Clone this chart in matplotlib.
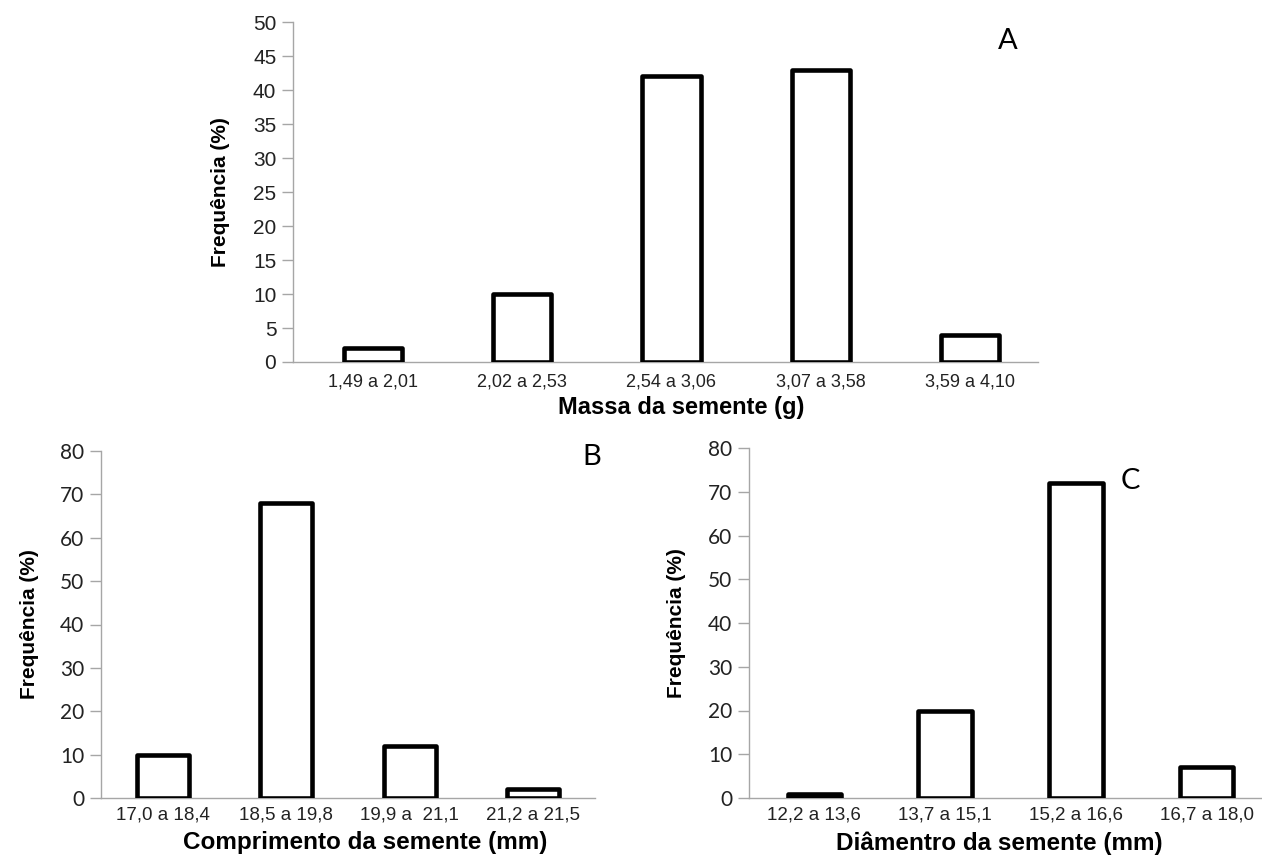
import matplotlib
matplotlib.use("Agg")
import matplotlib.pyplot as plt
import numpy as np

# dados
massa_classes = ["1,49 a 2,01", "2,02 a 2,53", "2,54 a 3,06", "3,07 a 3,58", "3,59 a 4,10"]
massa_freq = [2, 10, 42, 43, 4]

compr_classes = ["17,0 a 18,4", "18,5 a 19,8", "19,9 a  21,1", "21,2 a 21,5"]
compr_freq = [10, 68, 12, 2]

diam_classes = ["12,2 a 13,6", "13,7 a 15,1", "15,2 a 16,6", "16,7 a 18,0"]
diam_freq = [1, 20, 72, 7]

W, H = 1262, 856
fig = plt.figure(figsize=(W / 100, H / 100), dpi=100)
fig.patch.set_facecolor("white")

GRAY = "#a6a6a6"


def panel(rect, classes, freq, ymax, ystep, letter, letter_xy, xlabel,
          ytick_font, ytick_size, xtick_size, xlab_size, ylab_x, xlab_xy,
          width=0.4, xlim=None, xpad=6):
    l, r, t, b = rect
    ax = fig.add_axes([l / W, (H - b) / H, (r - l) / W, (b - t) / H])
    x = np.arange(len(classes))
    ax.bar(x, freq, width=width, color="white", edgecolor="black",
           linewidth=3.3, joinstyle="round", zorder=3)
    if xlim is None:
        xlim = (-0.5, len(classes) - 0.5)
    ax.set_xlim(*xlim)
    ax.set_ylim(0, ymax)
    ax.set_yticks(np.arange(0, ymax + 1, ystep))
    ax.set_xticks(x)
    ax.set_xticklabels(classes, fontsize=xtick_size, family="Liberation Sans",
                       color="#222222")
    for lab in ax.get_yticklabels():
        lab.set_family(ytick_font)
        lab.set_fontsize(ytick_size)
        lab.set_color("#222222")
    for s in ["top", "right"]:
        ax.spines[s].set_visible(False)
    for s in ["left", "bottom"]:
        ax.spines[s].set_color(GRAY)
        ax.spines[s].set_linewidth(1.0)
    ax.tick_params(axis="y", length=8, width=1.0, color=GRAY, pad=4)
    ax.tick_params(axis="x", length=0, pad=xpad)
    ax.set_ylabel("Frequência (%)", fontsize=15, fontweight="bold",
                  family="Liberation Sans")
    ax.yaxis.set_label_coords((ylab_x - l) / (r - l), 0.5)
    ax.yaxis.label.set_va("center")
    ax.set_xlabel(xlabel, fontsize=xlab_size, fontweight="bold", family="Liberation Sans")
    ax.xaxis.set_label_coords((xlab_xy[0] - l) / (r - l), (b - xlab_xy[1]) / (b - t))
    ax.xaxis.label.set_va("center")
    fig.text(letter_xy[0] / W, 1 - letter_xy[1] / H, letter, fontsize=21,
             family="Lato", ha="center", va="center")
    return ax


panel((293, 1038, 22, 362), massa_classes, massa_freq, 50, 5, "A", (1008, 41),
      "Massa da semente (g)", "Liberation Sans", 15, 13, 17, 221, (681, 408),
      width=0.39, xlim=(-0.536, 4.456), xpad=8)
panel((101, 595, 451, 798), compr_classes, compr_freq, 80, 10, "B", (592, 457),
      "Comprimento da semente (mm)", "Lato", 15, 13.5, 17.5, 30, (365, 843),
      width=0.42)
panel((749, 1272, 448, 798), diam_classes, diam_freq, 80, 10, "C", (1130, 481),
      "Diâmentro da semente (mm)", "Lato", 15, 13.5, 17.5, 677, (999, 843),
      width=0.41)

fig.savefig("out.png", dpi=100)
